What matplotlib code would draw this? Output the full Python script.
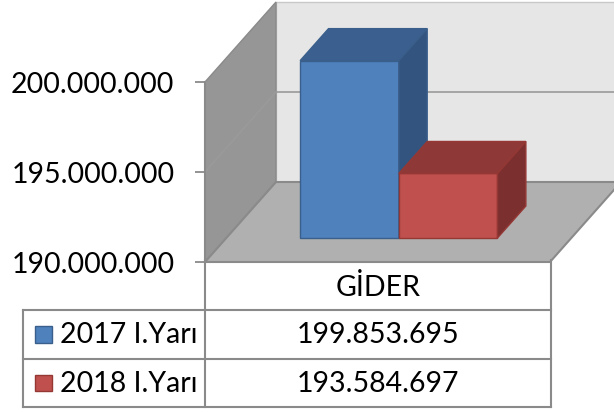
import matplotlib.pyplot as plt
from matplotlib.patches import Polygon, Rectangle

plt.rcParams["font.family"] = ["Lato", "DejaVu Sans"]

category = "GİDER"
series = ["2017 I.Yarı", "2018 I.Yarı"]
values = [199853695, 193584697]
front_colors = ["#4f81bd", "#c0504d"]
top_colors = ["#3b6090", "#8e3937"]
side_colors = ["#32547e", "#7b2f2e"]
edge_colors = ["#3a5f8b", "#953835"]
y_ticks = [190000000, 195000000, 200000000]

ymin, ymax = y_ticks[0], y_ticks[-1]
line_col = "#8a8a8a"
fs = 20.5


def fmt(v):
    return f"{v:,.0f}".replace(",", ".")


fig = plt.figure(figsize=(6.14, 4.14), dpi=100)
ax = fig.add_axes([205 / 614, (414 - 263) / 414, 345 / 614, 180 / 414])
ax.set_xlim(0, 1)
ax.set_ylim(ymin, ymax)
ax.patch.set_visible(False)

# oblique depth offsets (x in axis units, y in value units)
DX = 71 / 345
DY = 80 / 180 * (ymax - ymin)


def proj(x, v, d):
    return (x + d * DX, v + d * DY)


def face(pts, fc, ec, lw=1.0, z=1):
    ax.add_patch(Polygon(pts, closed=True, facecolor=fc, edgecolor=ec,
                         linewidth=lw, clip_on=False, zorder=z))


# walls and floor
face([proj(0, ymin, 1), proj(1.2, ymin, 1), proj(1.2, ymax, 1), proj(0, ymax, 1)],
     "#e6e6e6", "#c8c8c8")
face([proj(0, ymin, 0), proj(0, ymin, 1), proj(0, ymax, 1), proj(0, ymax, 0)],
     "#969696", line_col)
face([proj(0, ymin, 0), proj(1, ymin, 0), proj(1, ymin, 1), proj(0, ymin, 1)],
     "#b0b0b0", line_col, lw=1.5)

# gridlines on walls
for t in y_ticks[1:-1]:
    xs, ys = zip(proj(0, t, 0), proj(0, t, 1), proj(1.2, t, 1))
    ax.plot(xs, ys, color="#9a9a9a", lw=1.2, clip_on=False, zorder=2)

# bars
bw = 0.286
d0, d1 = 0.3, 0.7
for i, v in enumerate(values):
    x0 = 0.5 - bw + i * bw
    x1 = x0 + bw
    face([proj(x0, ymin, d0), proj(x1, ymin, d0), proj(x1, v, d0), proj(x0, v, d0)],
         front_colors[i], edge_colors[i], z=3)
    face([proj(x0, v, d0), proj(x1, v, d0), proj(x1, v, d1), proj(x0, v, d1)],
         top_colors[i], edge_colors[i], z=3)
    face([proj(x1, ymin, d0), proj(x1, ymin, d1), proj(x1, v, d1), proj(x1, v, d0)],
         side_colors[i], edge_colors[i], z=3)

ax.set_xticks([])
ax.set_yticks(y_ticks)
ax.set_yticklabels([fmt(t) for t in y_ticks], fontsize=fs)
ax.tick_params(axis="y", length=7, width=1.3, color=line_col, pad=15)
for s in ["top", "right", "bottom"]:
    ax.spines[s].set_visible(False)
ax.spines["left"].set_color(line_col)
ax.spines["left"].set_linewidth(1.5)

# data table
tab = fig.add_axes([23 / 614, 6 / 414, 528 / 614, 145 / 414])
tab.set_xlim(0, 1)
tab.set_ylim(0, 3)
tab.axis("off")
split = 182 / 528
lk = dict(color=line_col, lw=1.5, clip_on=False)
tab.plot([split, split], [0, 3.05], **lk)
tab.plot([1, 1], [0, 3.05], **lk)
tab.plot([0, 0], [0, 2], **lk)
for r in [0, 1, 2]:
    tab.plot([0, 1], [r, r], **lk)

mid = (split + 1) / 2
tab.text(mid, 2.5, category, ha="center", va="center", fontsize=fs)
for i, name in enumerate(series):
    yc = 1.5 - i
    tab.add_patch(Rectangle((0.023, yc - 0.17), 0.032, 0.34,
                            facecolor=front_colors[i], edgecolor=edge_colors[i], lw=1))
    tab.text(0.07, yc, name, ha="left", va="center", fontsize=fs)
    tab.text(mid, yc, fmt(values[i]), ha="center", va="center", fontsize=fs)

fig.savefig("out.png", dpi=100)
